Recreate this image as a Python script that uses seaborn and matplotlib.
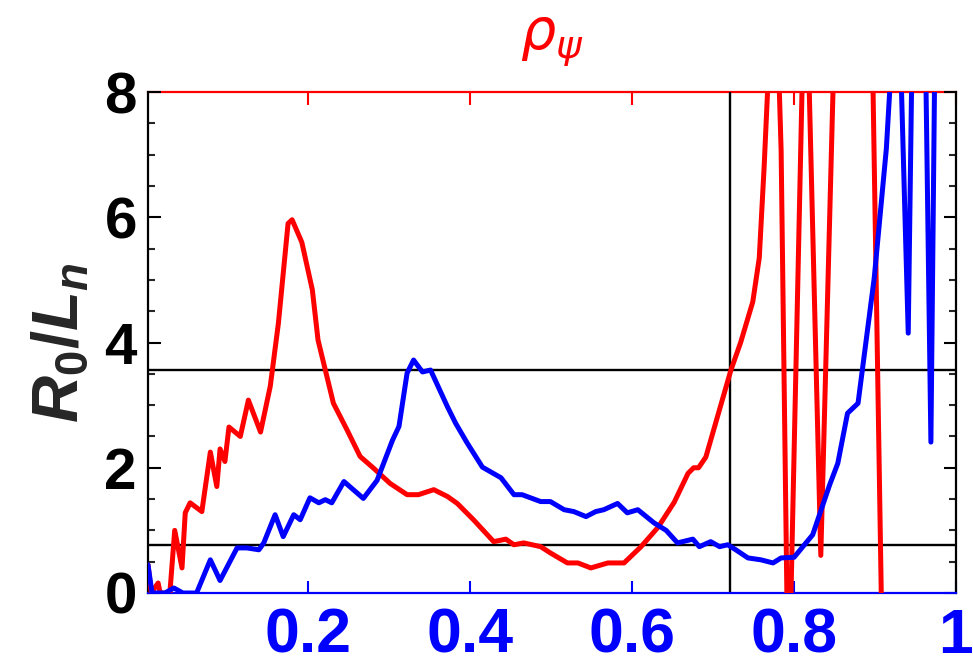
import matplotlib
matplotlib.use("Agg")
import matplotlib.pyplot as plt
from matplotlib.ticker import MultipleLocator, FixedLocator
import seaborn as sns
import pandas as pd

# ---- data ----
red_x = [0.002, 0.006, 0.0145, 0.017, 0.029, 0.035, 0.044, 0.048, 0.054, 0.0685,
         0.079, 0.087, 0.091, 0.097, 0.102, 0.116, 0.126, 0.141, 0.153, 0.163,
         0.175, 0.180, 0.192, 0.205, 0.212, 0.231, 0.248, 0.264, 0.280, 0.301,
         0.322, 0.336, 0.355, 0.372, 0.384, 0.404, 0.429, 0.444, 0.454, 0.466,
         0.487, 0.499, 0.520, 0.533, 0.549, 0.570, 0.590, 0.611, 0.632, 0.652,
         0.669, 0.676, 0.682, 0.691, 0.722, 0.734, 0.749, 0.757, 0.763, 0.776,
         0.784, 0.793, 0.814, 0.833, 0.858, 0.890, 0.914, 0.95, 1.0]
red_y = [0.45, 0.0, 0.16, 0.0, 0.0, 1.0, 0.4, 1.28, 1.44, 1.3,
         2.25, 1.7, 2.3, 2.1, 2.65, 2.5, 3.08, 2.57, 3.3, 4.3,
         5.9, 5.96, 5.6, 4.84, 4.04, 3.03, 2.6, 2.18, 2.0, 1.75,
         1.57, 1.57, 1.65, 1.54, 1.43, 1.17, 0.82, 0.86, 0.77, 0.8,
         0.74, 0.64, 0.48, 0.48, 0.4, 0.48, 0.48, 0.74, 1.05, 1.45,
         1.91, 2.0, 2.0, 2.17, 3.56, 4.0, 4.65, 5.35, 6.8, 10.5,
         7.07, -1.9, 10.5, 0.6, 12.9, 14.0, -5.0, -6.0, -6.0]

blue_x = [0.002, 0.007, 0.023, 0.034, 0.045, 0.050, 0.062, 0.079, 0.091, 0.112,
          0.124, 0.139, 0.145, 0.159, 0.169, 0.182, 0.190, 0.202, 0.213, 0.221,
          0.229, 0.244, 0.268, 0.285, 0.304, 0.312, 0.322, 0.330, 0.341, 0.351,
          0.372, 0.382, 0.396, 0.415, 0.438, 0.454, 0.464, 0.487, 0.499, 0.516,
          0.528, 0.543, 0.555, 0.565, 0.582, 0.594, 0.607, 0.627, 0.642, 0.656,
          0.675, 0.683, 0.697, 0.708, 0.718, 0.728, 0.743, 0.759, 0.774, 0.784,
          0.800, 0.823, 0.844, 0.854, 0.866, 0.879, 0.899, 0.914, 0.928, 0.941,
          0.954, 0.969, 0.977, 1.0]
blue_y = [0.45, 0.0, 0.0, 0.08, 0.0, 0.0, 0.0, 0.53, 0.2, 0.72,
          0.72, 0.69, 0.8, 1.25, 0.9, 1.25, 1.17, 1.52, 1.44, 1.49,
          1.44, 1.78, 1.51, 1.8, 2.44, 2.66, 3.51, 3.72, 3.53, 3.56,
          2.97, 2.71, 2.4, 2.01, 1.84, 1.57, 1.57, 1.46, 1.46, 1.33,
          1.3, 1.22, 1.3, 1.33, 1.43, 1.28, 1.33, 1.12, 1.0, 0.8,
          0.86, 0.74, 0.82, 0.74, 0.77, 0.69, 0.56, 0.53, 0.48, 0.56,
          0.57, 0.93, 1.73, 2.07, 2.87, 3.03, 5.03, 7.1, 10.2, 4.15,
          16.5, 2.41, 12.6, 15.0]

hlines_y = [3.56, 0.76]
vline_x = [0.721]

x_ticks = [0.2, 0.4, 0.6, 0.8, 1.0]
x_ticklabels = ["0.2", "0.4", "0.6", "0.8", "1"]
y_ticks = [0, 2, 4, 6, 8]
y_ticklabels = ["0", "2", "4", "6", "8"]

# ---- style ----
sns.set_style("white")
plt.rcParams["font.family"] = ["Liberation Sans", "DejaVu Sans"]
plt.rcParams["mathtext.fontset"] = "custom"
plt.rcParams["mathtext.it"] = "Liberation Sans:italic:bold"
plt.rcParams["mathtext.rm"] = "Liberation Sans:bold"
plt.rcParams["mathtext.bf"] = "Liberation Sans:bold"

fig = plt.figure(figsize=(9.73, 6.67), dpi=100)
ax = fig.add_axes([148 / 973, 74 / 667, 808 / 973, 501 / 667])

for y in hlines_y:
    ax.axhline(y, color="black", linewidth=1.7, zorder=1)
for x in vline_x:
    ax.axvline(x, color="black", linewidth=1.7, zorder=1)

df_red = pd.DataFrame({"x": red_x, "y": red_y})
df_blue = pd.DataFrame({"x": blue_x, "y": blue_y})
sns.lineplot(data=df_red, x="x", y="y", color="#ff0000", linewidth=3.6, ax=ax,
             estimator=None, sort=False, zorder=3)
sns.lineplot(data=df_blue, x="x", y="y", color="#0000ff", linewidth=3.6, ax=ax,
             estimator=None, sort=False, zorder=3)
for ln in ax.get_lines()[-2:]:
    ln.set_linewidth(3.6)
    ln.set_solid_joinstyle("round")

ax.set_xlim(0.002, 1.0)
ax.set_ylim(0, 8)
ax.set_xlabel("")
ax.set_ylabel(r"$R_0\mathit{/}L_n$", fontsize=47, labelpad=10)

ax.xaxis.set_major_locator(FixedLocator(x_ticks))
ax.set_xticklabels(x_ticklabels)
ax.yaxis.set_major_locator(FixedLocator(y_ticks))
ax.set_yticklabels(y_ticklabels)
ax.yaxis.set_minor_locator(MultipleLocator(0.5))

ax.tick_params(axis="y", which="major", direction="in", length=9, width=1.5,
               left=True, right=True, labelsize=42, pad=8, colors="black")
ax.tick_params(axis="y", which="minor", direction="in", length=5, width=1.5,
               left=True, right=True)
ax.tick_params(axis="x", which="major", direction="in", length=9, width=1.5,
               bottom=True, top=False, labelsize=45, pad=10, colors="#0000ff")
for lbl in ax.get_yticklabels():
    lbl.set_fontweight("bold")
for lbl in ax.get_xticklabels():
    lbl.set_fontweight("bold")

for s in ["left", "right"]:
    ax.spines[s].set_color("black")
    ax.spines[s].set_linewidth(1.6)
ax.spines["bottom"].set_color("#0000ff")
ax.spines["bottom"].set_linewidth(1.6)
ax.spines["top"].set_visible(False)

sec = ax.secondary_xaxis("top")
sec.xaxis.set_major_locator(FixedLocator(x_ticks))
sec.tick_params(axis="x", direction="in", length=9, width=1.5, colors="#ff0000",
                labeltop=False)
sec.spines["top"].set_color("#ff0000")
sec.spines["top"].set_linewidth(1.6)
sec.set_xlabel(r"$\rho_\psi$", color="#ff0000", fontsize=40, labelpad=31,
               math_fontfamily="dejavusans")

fig.savefig("out.png", dpi=100)
